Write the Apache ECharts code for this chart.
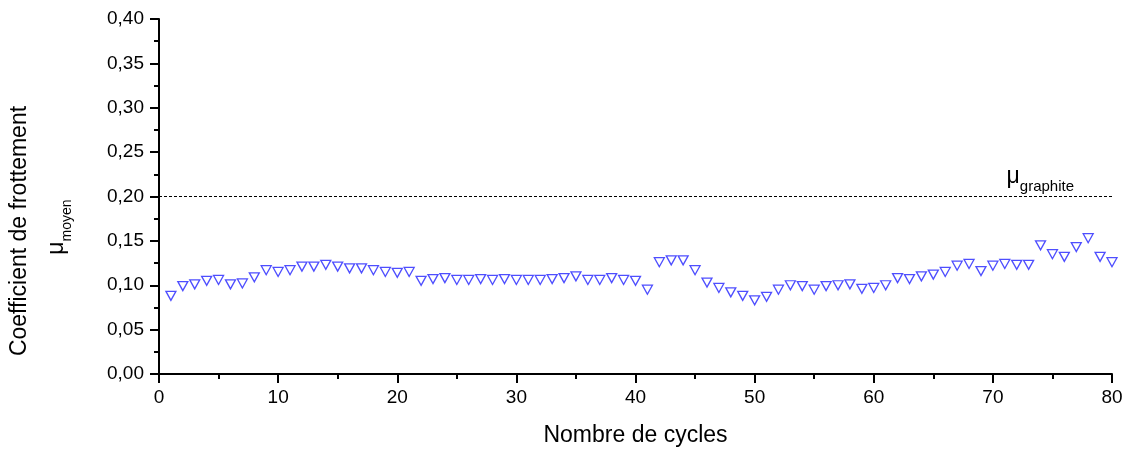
<!DOCTYPE html>
<html>
<head>
<meta charset="utf-8">
<script src="https://cdn.jsdelivr.net/npm/echarts@6/dist/echarts.min.js"></script>
<style>
  html, body { margin: 0; padding: 0; background: #fff; }
  #chart { width: 1128px; height: 453px; }
</style>
</head>
<body>
<div id="chart"></div>
<script>
// cycle numbers and mean friction coefficient per cycle
const cycles = [
  1, 2, 3, 4, 5, 6, 7, 8, 9, 10, 11, 12, 13, 14, 15, 16, 17, 18, 19, 20,
  21, 22, 23, 24, 25, 26, 27, 28, 29, 30, 31, 32, 33, 34, 35, 36, 37, 38, 39, 40,
  41, 42, 43, 44, 45, 46, 47, 48, 49, 50, 51, 52, 53, 54, 55, 56, 57, 58, 59, 60,
  61, 62, 63, 64, 65, 66, 67, 68, 69, 70, 71, 72, 73, 74, 75, 76, 77, 78, 79, 80
];
const muMoyen = [
  0.088, 0.099, 0.101, 0.105, 0.106, 0.101, 0.102, 0.109, 0.117, 0.115,
  0.117, 0.121, 0.121, 0.123, 0.121, 0.119, 0.119, 0.117, 0.115, 0.114,
  0.115, 0.105, 0.107, 0.108, 0.106, 0.106, 0.107, 0.106, 0.107, 0.106,
  0.106, 0.106, 0.107, 0.108, 0.110, 0.106, 0.106, 0.108, 0.106, 0.105,
  0.095, 0.126, 0.128, 0.128, 0.117, 0.103, 0.097, 0.092, 0.088, 0.083,
  0.087, 0.095, 0.100, 0.099, 0.095, 0.099, 0.100, 0.101, 0.096, 0.097,
  0.100, 0.108, 0.107, 0.110, 0.112, 0.115, 0.122, 0.124, 0.116, 0.122,
  0.124, 0.123, 0.123, 0.145, 0.135, 0.132, 0.143, 0.153, 0.132, 0.126
];
const muGraphite = 0.20;

const chart = echarts.init(document.getElementById('chart'));
const font = 'Liberation Sans, Arial, sans-serif';
const fmt = v => v.toFixed(2).replace('.', ',');

chart.setOption({
  animation: false,
  backgroundColor: '#fff',
  textStyle: { fontFamily: font },
  grid: { left: 159, right: 16, top: 19, bottom: 79 },
  xAxis: {
    type: 'value',
    min: 0, max: 80, interval: 10,
    name: 'Nombre de cycles',
    nameLocation: 'middle',
    nameGap: 50,
    nameTextStyle: { fontSize: 23, color: '#000', fontFamily: font },
    axisLine: { lineStyle: { color: '#000', width: 2 } },
    axisTick: { inside: false, length: 9, lineStyle: { color: '#000', width: 2 } },
    minorTick: { show: true, splitNumber: 2, length: 5, lineStyle: { color: '#000', width: 2 } },
    axisLabel: { fontSize: 19, color: '#000', margin: 14, fontFamily: font },
    splitLine: { show: false }
  },
  yAxis: {
    type: 'value',
    min: 0, max: 0.4, interval: 0.05,
    axisLine: { show: true, lineStyle: { color: '#000', width: 2 } },
    axisTick: { show: true, inside: false, length: 9, lineStyle: { color: '#000', width: 2 } },
    minorTick: { show: true, splitNumber: 2, length: 5, lineStyle: { color: '#000', width: 2 } },
    axisLabel: { fontSize: 19, color: '#000', margin: 15, formatter: fmt, fontFamily: font },
    splitLine: { show: false }
  },
  graphic: [
    {
      type: 'text',
      x: 20, y: 231, rotation: Math.PI / 2,
      style: {
        text: 'Coefficient de frottement',
        font: '23px ' + font, fill: '#000',
        align: 'center', verticalAlign: 'middle'
      }
    },
    {
      type: 'text',
      x: 54, y: 227, rotation: Math.PI / 2,
      style: {
        text: '{m|μ}{s|moyen}',
        align: 'center', verticalAlign: 'middle',
        rich: {
          m: { fontSize: 23, fontFamily: font, fill: '#000', lineHeight: 28, verticalAlign: 'bottom' },
          s: { fontSize: 14, fontFamily: font, fill: '#000', lineHeight: 28, verticalAlign: 'bottom', padding: [0, 0, -6, 0] }
        }
      }
    }
  ],
  series: [
    {
      type: 'scatter',
      data: cycles.map((c, i) => [c, muMoyen[i]]),
      symbol: 'triangle',
      symbolRotate: 180,
      symbolSize: [10, 9],
      itemStyle: { color: '#fff', borderColor: '#2222ff', borderWidth: 1.3 },
      clip: true,
      z: 3,
      markLine: {
        silent: true,
        symbol: 'none',
        lineStyle: { color: '#000', type: [3, 2], width: 1 },
        label: {
          show: true,
          position: 'insideEndTop',
          distance: [38, 8],
          formatter: '{m|μ}{s|graphite}',
          rich: {
            m: { fontSize: 23, fontFamily: font, color: '#000', lineHeight: 28, verticalAlign: 'bottom' },
            s: { fontSize: 15, fontFamily: font, color: '#000', lineHeight: 28, verticalAlign: 'bottom', padding: [0, 0, -6, 0] }
          }
        },
        data: [{ yAxis: muGraphite }]
      }
    }
  ]
});
</script>
</body>
</html>
